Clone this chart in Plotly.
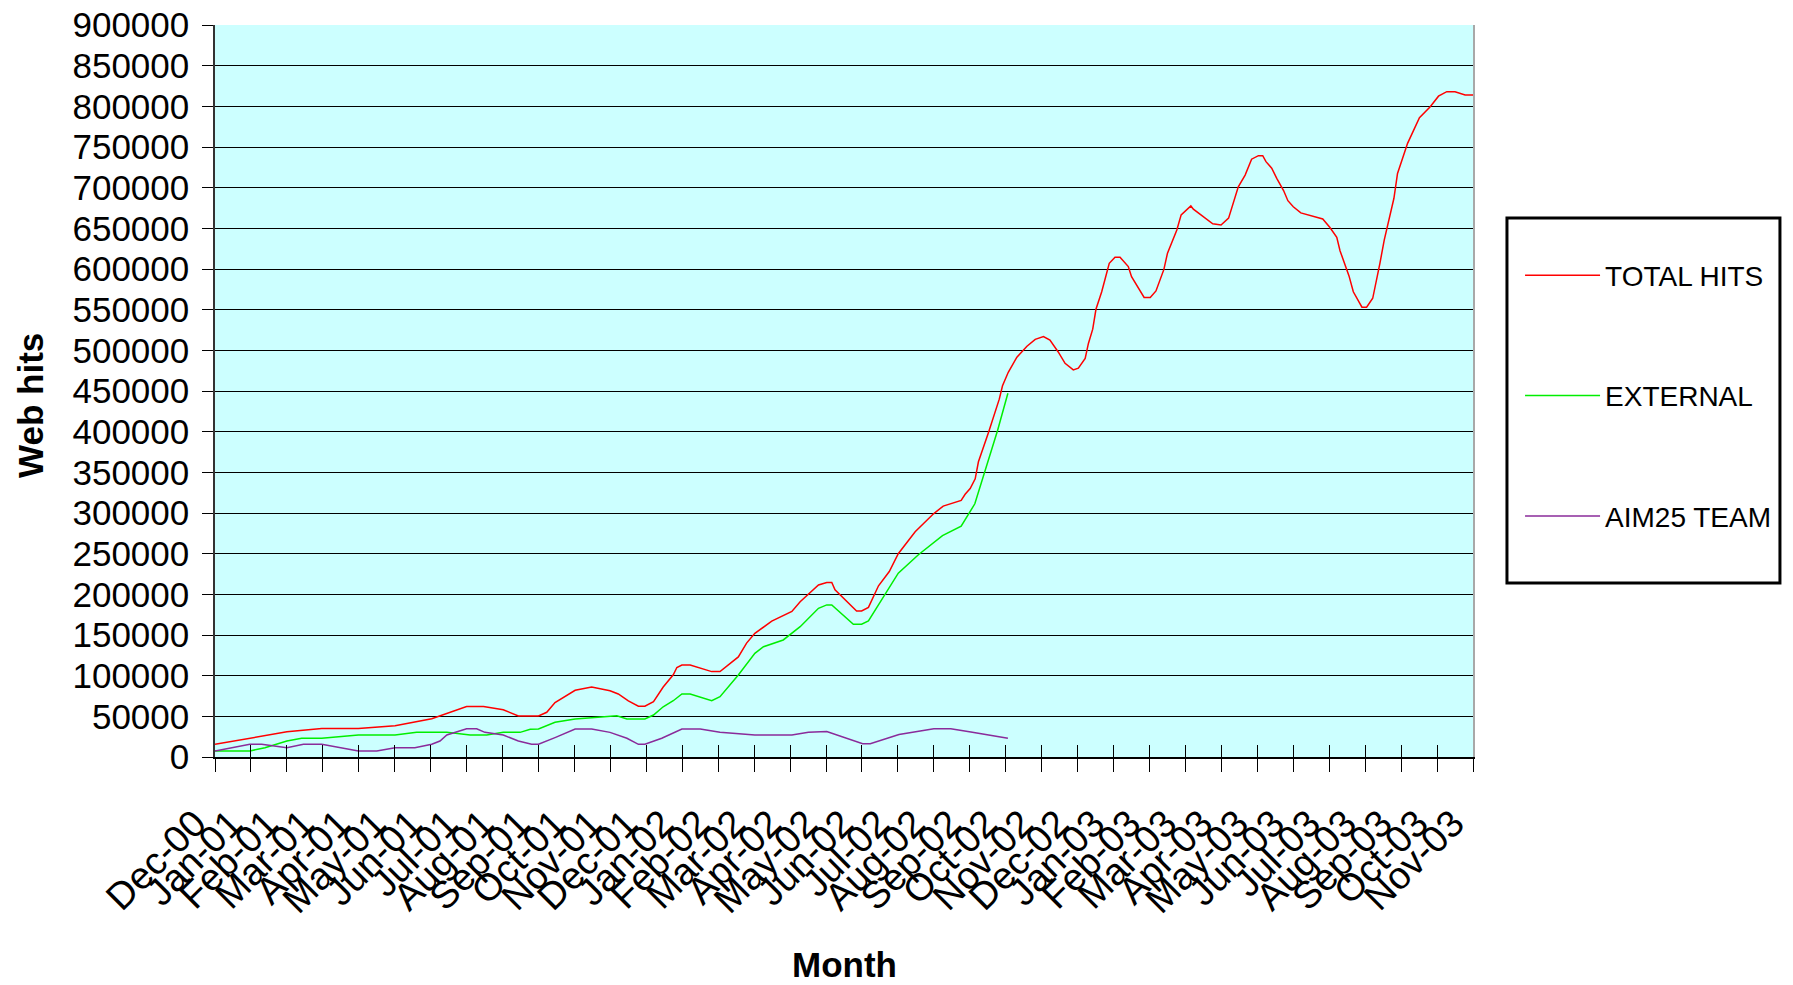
import plotly.graph_objects as go

# Month categories (tick labels), one per month from Dec-00 to Nov-03
months = ["Dec-00", "Jan-01", "Feb-01", "Mar-01", "Apr-01", "May-01", "Jun-01", "Jul-01",
          "Aug-01", "Sep-01", "Oct-01", "Nov-01", "Dec-01", "Jan-02", "Feb-02", "Mar-02",
          "Apr-02", "May-02", "Jun-02", "Jul-02", "Aug-02", "Sep-02", "Oct-02", "Nov-02",
          "Dec-02", "Jan-03", "Feb-03", "Mar-03", "Apr-03", "May-03", "Jun-03", "Jul-03",
          "Aug-03", "Sep-03", "Oct-03", "Nov-03"]
month_pos = list(range(len(months)))

# TOTAL HITS: position in months since Dec-00, and hits
total_x = [0.00, 2.00, 2.97, 3.99, 5.01, 6.03, 7.00, 7.47, 8.02, 8.44, 9.00, 9.23, 9.46, 9.74,
           10.02, 10.48, 10.99, 11.22, 11.50, 11.78, 11.96, 12.20, 12.47, 12.75, 12.85, 12.99,
           13.22, 13.82, 14.05, 14.56, 14.79, 15.02, 15.49, 16.05, 16.28, 16.79, 17.02, 17.16,
           17.25, 17.85, 17.99, 18.18, 18.46, 18.76, 19.01, 19.48, 19.99, 20.26, 20.76, 20.87,
           21.01, 21.15, 21.24, 21.52, 21.82, 21.91, 22.07, 22.31, 22.59, 22.82, 23.05, 23.23,
           23.46, 23.65, 23.88, 24.02, 24.21, 24.30, 24.42, 24.51, 24.67, 24.88, 25.04, 25.18,
           25.41, 25.50, 25.85, 26.02, 26.18, 26.40, 26.50, 26.76, 26.88, 27.15, 27.22, 27.76,
           27.99, 28.20, 28.47, 28.66, 28.84, 29.03, 29.15, 29.24, 29.40, 29.54, 29.73, 29.85,
           30.00, 30.21, 30.82, 31.02, 31.21, 31.30, 31.55, 31.67, 31.91, 32.04, 32.21, 32.41,
           32.53, 32.80, 32.90, 33.18, 33.51, 33.81, 34.04, 34.27, 34.50, 34.78, 35.00]
total_hits = [15600, 31000, 35000, 35000, 38500, 47000, 62000, 62000, 58000, 50500, 50500, 55000,
              67000, 74000, 82000, 86000, 81500, 77500, 69000, 62500, 62500, 68000, 86000, 101000,
              110000, 113000, 113000, 105000, 105000, 123000, 140000, 152000, 167000, 179000,
              191000, 211500, 214500, 214500, 205500, 179500, 179500, 184000, 210500, 228000,
              250000, 277000, 299000, 308500, 315500, 323000, 330000, 342000, 363000, 399000,
              440000, 456500, 473000, 491500, 505000, 513500, 517000, 512500, 498000, 484000,
              476000, 478000, 490000, 508500, 526000, 550500, 572000, 607000, 614500, 614500,
              603000, 590500, 565000, 565000, 573000, 599500, 619500, 648000, 666500, 677500,
              673500, 655500, 654000, 662500, 701000, 715500, 735000, 739300, 739300, 732000,
              724000, 711500, 696500, 684000, 676500, 669000, 661500, 651000, 639000, 622500,
              591500, 572000, 553000, 553000, 564000, 607000, 635500, 687000, 717500, 754500,
              786000, 799500, 812500, 818000, 818000, 814000, 814000]

# EXTERNAL
external_x = [0.00, 0.97, 1.39, 2.00, 2.41, 2.97, 3.99, 5.01, 5.61, 6.45, 7.10, 7.56, 8.02, 8.49,
              8.77, 9.00, 9.46, 10.02, 10.48, 11.18, 11.46, 11.96, 12.20, 12.47, 12.75, 12.99,
              13.22, 13.82, 14.05, 14.56, 15.02, 15.26, 15.81, 16.28, 16.79, 17.02, 17.16, 17.76,
              17.99, 18.18, 19.01, 19.57, 20.24, 20.76, 21.14, 21.52, 21.77, 22.06]
external_hits = [7400, 7400, 11500, 19700, 23000, 23000, 27000, 27000, 30300, 30300, 27000, 27000,
                 30300, 30300, 34000, 34400, 42600, 46700, 48300, 50800, 46700, 46700, 51600,
                 61800, 69200, 77500, 77500, 69200, 74100, 100800, 127500, 135600, 143900,
                 160200, 182800, 187000, 187000, 163200, 163200, 167200, 226100, 248700, 272200,
                 283800, 311300, 366000, 401100, 447200]

# AIM25 TEAM
team_x = [0.00, 0.97, 1.30, 2.00, 2.46, 2.97, 3.99, 4.50, 5.01, 5.56, 6.03, 6.26, 6.45, 7.00,
          7.28, 7.51, 8.02, 8.44, 8.81, 9.00, 9.46, 10.02, 10.48, 10.99, 11.46, 11.78, 11.96,
          12.43, 12.99, 13.50, 14.05, 15.02, 16.05, 16.51, 17.02, 18.02, 18.23, 19.03, 20.00,
          20.47, 21.03, 22.06]
team_hits = [7400, 15600, 15600, 11500, 15600, 15600, 7400, 7400, 11500, 11500, 15600, 19700,
             27000, 34800, 34800, 30300, 27000, 19700, 15600, 15600, 23800, 34400, 34400, 30300,
             23000, 15600, 15600, 23000, 34400, 34400, 30300, 27000, 27000, 30500, 31400, 16200,
             16200, 27700, 34700, 34700, 30600, 23100]

y_ticks = list(range(0, 900001, 50000))

FONT = "Liberation Sans, Arial, sans-serif"

fig = go.Figure()
fig.add_trace(go.Scatter(x=total_x, y=total_hits, mode="lines", name="TOTAL HITS",
                         line=dict(color="#FF0000", width=1.5), legendgroup="a"))
fig.add_trace(go.Scatter(x=external_x, y=external_hits, mode="lines", name="EXTERNAL",
                         line=dict(color="#00EE00", width=1.5), legendgroup="b"))
fig.add_trace(go.Scatter(x=team_x, y=team_hits, mode="lines", name="AIM25 TEAM",
                         line=dict(color="#8A2B9A", width=1.5), legendgroup="c"))
# empty helper traces so the overlay axes (inner tick marks, right frame edge) are drawn
fig.add_trace(go.Scatter(x=[], y=[], xaxis="x2", yaxis="y", showlegend=False, hoverinfo="skip"))
fig.add_trace(go.Scatter(x=[], y=[], xaxis="x", yaxis="y2", showlegend=False, hoverinfo="skip"))

fig.update_layout(
    width=1785, height=977,
    margin=dict(l=207, r=320, t=17, b=228, autoexpand=False),
    paper_bgcolor="white",
    plot_bgcolor="#CCFFFF",
    font=dict(family=FONT, color="black"),
    showlegend=True,
    legend=dict(x=1.0374, y=0.692, xanchor="left", yanchor="top",
                bgcolor="rgba(0,0,0,0)", borderwidth=0,
                font=dict(size=28, family=FONT, color="black"),
                itemwidth=75, tracegroupgap=81),
    xaxis=dict(range=[0, 35], tickmode="array", tickvals=month_pos, ticktext=months,
               tickangle=-45, ticks="outside", ticklen=13, tickcolor="black", tickwidth=1,
               showline=True, linecolor="black", linewidth=1.5, showgrid=False, zeroline=False,
               tickfont=dict(size=38, family=FONT), ticklabelstandoff=14, ticklabelshift=-20,
               ticklabeloverflow="allow", automargin=False),
    xaxis2=dict(range=[0, 35], overlaying="x", anchor="y", side="bottom",
                tickmode="array", tickvals=month_pos, ticks="inside", ticklen=12,
                tickcolor="black", showticklabels=False, showgrid=False, zeroline=False,
                showline=False),
    yaxis=dict(range=[0, 900000], tickmode="array", tickvals=y_ticks, tickformat="d",
               ticks="outside", ticklen=11, tickcolor="black",
               showline=True, linecolor="#333333", linewidth=1.5,
               showgrid=True, gridcolor="black", gridwidth=1, zeroline=False,
               tickfont=dict(size=35, family=FONT), ticklabelstandoff=6,
               ticklabeloverflow="allow", automargin=False),
    yaxis2=dict(range=[0, 900000], overlaying="y", anchor="x", side="right",
                showline=True, linecolor="#A8A8A8", linewidth=2, showticklabels=False,
                ticks="", showgrid=False, zeroline=False),
    shapes=[dict(type="rect", xref="paper", yref="paper", x0=1.027, x1=1.244,
                 y0=0.2377, y1=0.7363, line=dict(color="black", width=3),
                 fillcolor="white", layer="above")],
    annotations=[
        dict(text="<b>Month</b>", xref="paper", yref="paper", x=0.5, y=-0.2828,
             xanchor="center", yanchor="middle", showarrow=False,
             font=dict(size=35, family=FONT, color="black")),
        dict(text="<b>Web hits</b>", xref="paper", yref="paper", x=-0.1463, y=0.4809,
             xanchor="center", yanchor="middle", showarrow=False, textangle=-90,
             font=dict(size=35, family=FONT, color="black")),
    ],
)

fig.write_html("out.html", config={"displayModeBar": False})
